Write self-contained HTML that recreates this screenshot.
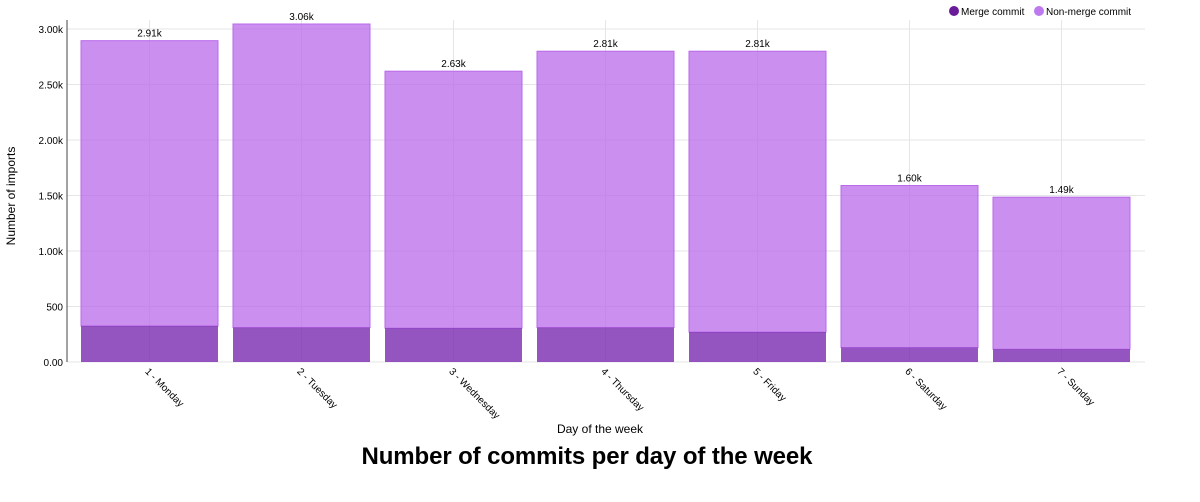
<!DOCTYPE html>
<html><head><meta charset="utf-8"><style>
body{margin:0;background:#fff;font-family:"Liberation Sans",sans-serif}
svg text{font-family:"Liberation Sans",sans-serif}
</style></head><body>
<svg width="1200" height="497">
<g id="grid"></g><g id="bars"></g><g id="labels"></g>
<line x1="67" y1="20" x2="67" y2="362" stroke="#444" stroke-width="1"/>
<g>
<circle cx="954" cy="11" r="5" fill="#6a1b9a"/>
<text x="961" y="15" font-size="10">Merge commit</text>
<circle cx="1039" cy="11" r="5" fill="#bd79ed"/>
<text x="1046" y="15" font-size="10">Non-merge commit</text>
</g>
<text x="15" y="196" font-size="12" text-anchor="middle" transform="rotate(-90 15 196)">Number of imports</text>
<text x="600" y="433" font-size="12" text-anchor="middle">Day of the week</text>
<text x="587" y="464" font-size="24" font-weight="bold" text-anchor="middle" textLength="451">Number of commits per day of the week</text>
</svg>
<script>
const categories=["1 - Monday","2 - Tuesday","3 - Wednesday","4 - Thursday","5 - Friday","6 - Saturday","7 - Sunday"];
const mergeValues=[325,310,305,310,270,130,115];
const totalValues=[2895,3045,2620,2800,2800,1590,1485];
const totalLabels=["2.91k","3.06k","2.63k","2.81k","2.81k","1.60k","1.49k"];
const yTicks=[0,500,1000,1500,2000,2500,3000];
const yTickLabels=["0.00","500","1.00k","1.50k","2.00k","2.50k","3.00k"];
const NS="http://www.w3.org/2000/svg";
const y=v=>362-v*333/3000;
const band=152, x0=73.5;
const xc=i=>x0+band*i+band/2;
function mk(tag,attrs,parent){const e=document.createElementNS(NS,tag);for(const k in attrs)e.setAttribute(k,attrs[k]);document.getElementById(parent).appendChild(e);return e;}
yTicks.forEach((t,i)=>{
 const l=mk('line',{x1:67,x2:1145,y1:y(t),y2:y(t),stroke:'#e6e6e6'},'grid');
 
 
 const tx=mk('text',{x:63,y:y(t)+4,'font-size':10,'text-anchor':'end'},'labels');
 tx.textContent=yTickLabels[i];
 
 
});
categories.forEach((c,i)=>{
 const l=mk('line',{x1:xc(i),x2:xc(i),y1:20,y2:362,stroke:'#e6e6e6'},'grid');
 
 
});
categories.forEach((c,i)=>{
 const bx=xc(i)-68.5,w=137;
 const nm=mk('rect',{x:bx,y:y(totalValues[i]),width:w,height:y(mergeValues[i])-y(totalValues[i]),fill:'#b96ae9','fill-opacity':0.75,stroke:'#b96ae9'},'bars');
 
 
 const m=mk('rect',{x:bx,y:y(mergeValues[i]),width:w,height:362-y(mergeValues[i]),fill:'#7a2ab0','fill-opacity':0.8},'bars');
 
 
 const v=mk('text',{x:xc(i),y:y(totalValues[i])-4,'font-size':10,'text-anchor':'middle'},'labels');
 v.textContent=totalLabels[i];
 
 
 const t=mk('text',{x:xc(i)-5,y:372,'font-size':10,transform:`rotate(45 ${xc(i)-5} 372)`},'labels');
 t.textContent=c;
 
 
});
</script>
</body></html>
